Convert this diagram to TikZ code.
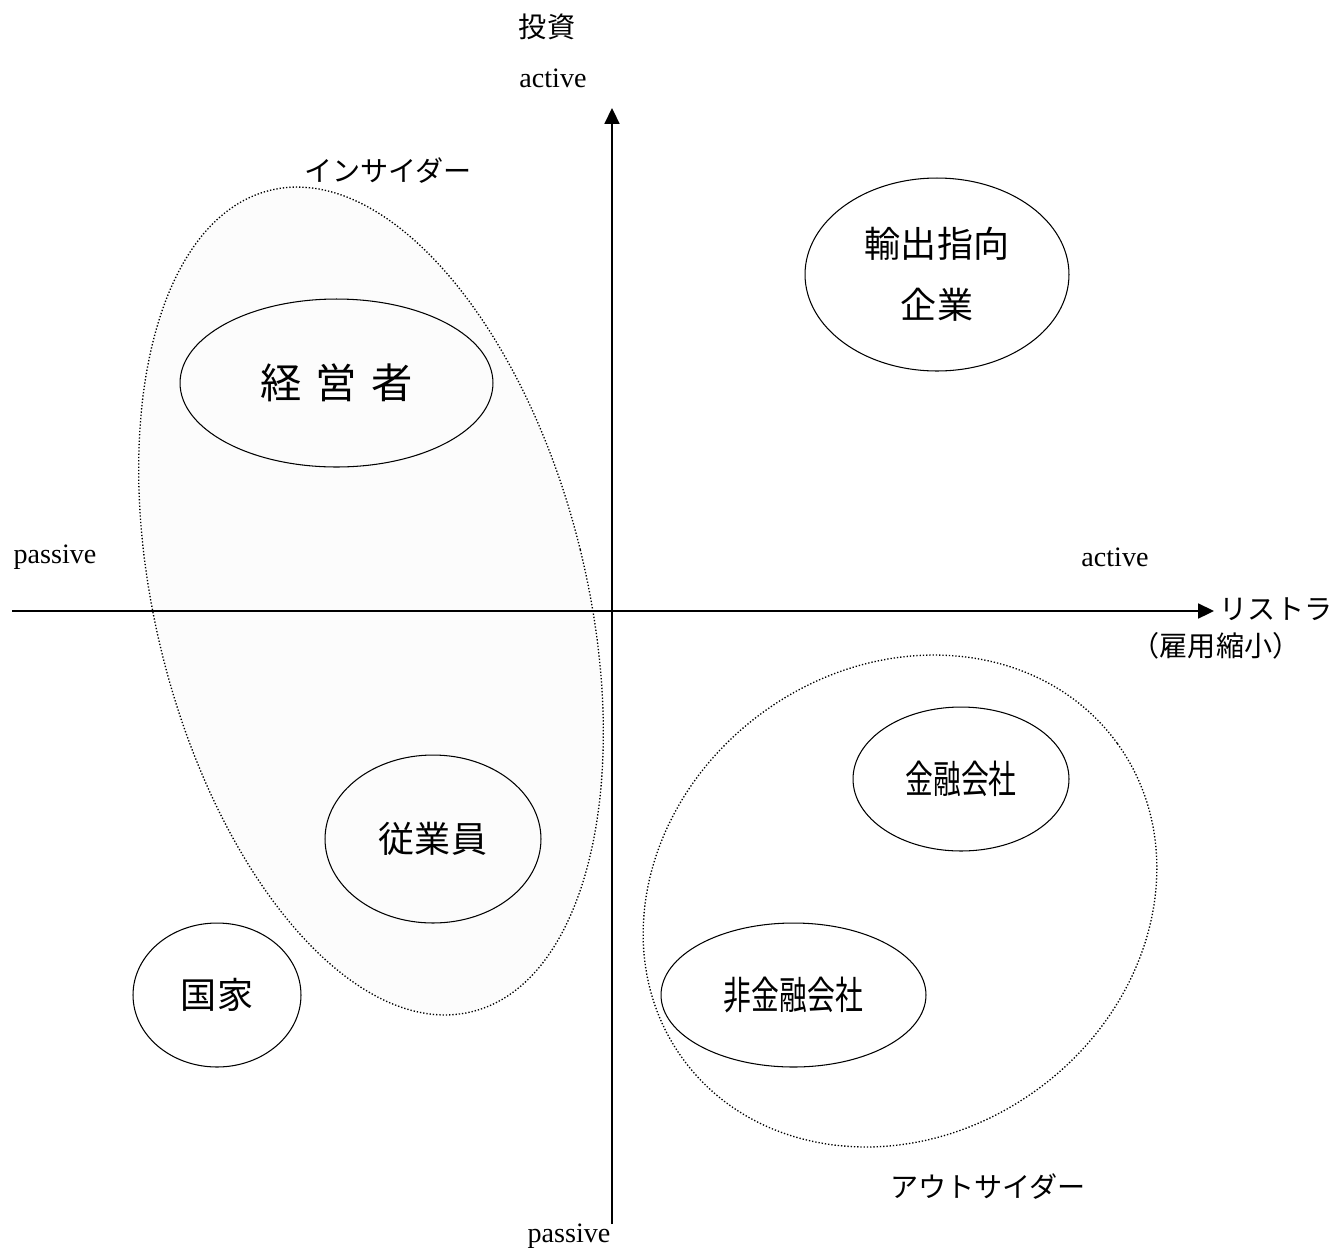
\documentclass[tikz,border=0pt]{standalone}
\usepackage{fontspec}
\setmainfont{Liberation Serif}
\newfontfamily\cjk{Noto Sans CJK JP}
\newfontfamily\cjkc[FakeStretch=0.72]{Noto Sans CJK JP}
\usetikzlibrary{shapes.geometric,arrows.meta}
\begin{document}
\begin{tikzpicture}[x=0.02cm,y=-0.02cm,
  axis/.style={line width=1pt,-{Triangle[length=9pt,width=8.5pt]}},
  blob/.style={ellipse,draw,line width=0.6pt,inner sep=0pt,outer sep=0pt},
  grp/.style={ellipse,draw,line width=0.75pt,dash pattern=on 0.75pt off 1.1pt,inner sep=0pt,outer sep=0pt},
  lat/.style={font=\fontsize{16pt}{19pt}\selectfont,inner sep=0pt},
  jlab/.style={font=\cjk\fontsize{16pt}{19pt}\selectfont,inner sep=0pt},
  bigtxt/.style={font=\cjk\fontsize{20.5pt}{35pt}\selectfont,align=center},
  condtxt/.style={font=\cjkc\fontsize{22pt}{26pt}\selectfont}]
\useasboundingbox (0,0) rectangle (1338,1248);
% groups
\node[grp,fill=black!1,minimum width=8.62cm,minimum height=16.92cm,rotate=13.8] (ins) at (371,601) {};
\node[grp,minimum width=10.74cm,minimum height=9.33cm,rotate=36] (outs) at (900,901) {};
% actors
\node[blob,minimum width=6.26cm,minimum height=3.36cm,font=\cjk\fontsize{23.5pt}{28pt}\selectfont] (mgr) at (336.5,383) {経\hspace{8pt}営\hspace{8pt}者};
\node[blob,bigtxt,minimum width=5.28cm,minimum height=3.86cm] (exp) at (937,274.5) {輸出指向\\企業};
\node[blob,bigtxt,minimum width=4.32cm,minimum height=3.36cm] (emp) at (433,839) {従業員};
\node[blob,bigtxt,minimum width=3.36cm,minimum height=2.88cm] (state) at (217,995) {国家};
\node[blob,condtxt,minimum width=4.32cm,minimum height=2.88cm] (fin) at (961,779) {金融会社};
\node[blob,condtxt,minimum width=5.3cm,minimum height=2.88cm] (nonfin) at (793.5,995) {非金融会社};
% axes
\coordinate (xl) at (12,611);
\coordinate (xr) at (1214,611);
\coordinate (yb) at (612,1224);
\coordinate (yt) at (612,108);
\draw[axis] (xl) -- (xr);
\draw[axis] (yb) -- (yt);
% labels
\node[jlab] (invest) at (547,27) {投資};
\node[lat] (ytop) at (553,78) {active};
\node[lat] (ybot) at (569,1236) {passive};
\node[lat] (xleft) at (55,557) {passive};
\node[lat] (xright) at (1115,557) {active};
\node[jlab] (restr) at (1276,609) {リストラ};
\node[jlab] (koyo) at (1216,646) {（雇用縮小）};
\node[jlab] (inslab) at (388,171) {インサイダー};
\node[jlab] (outlab) at (988,1187) {アウトサイダー};
\end{tikzpicture}
\end{document}
